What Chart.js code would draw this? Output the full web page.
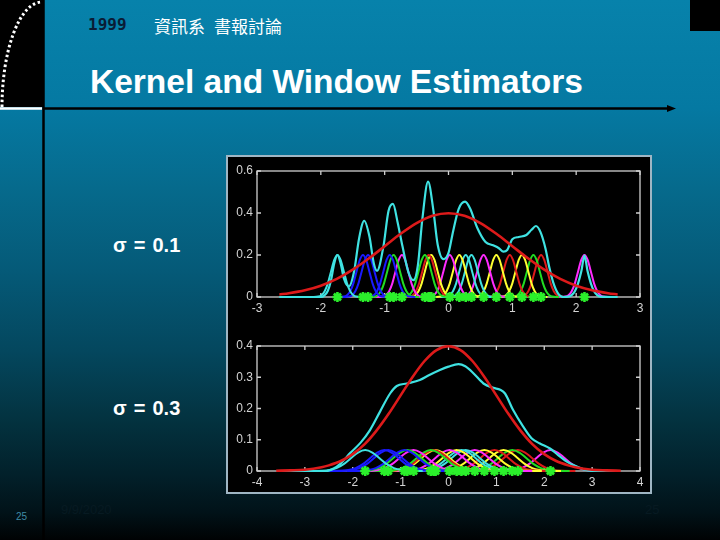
<!DOCTYPE html>
<html><head><meta charset="utf-8">
<script src="https://cdn.jsdelivr.net/npm/chart.js@4.4.1/dist/chart.umd.min.js"></script>
<style>
html,body{margin:0;padding:0;}
body{width:720px;height:540px;position:relative;overflow:hidden;
background:linear-gradient(to bottom,#0782ab 0%,#0579a2 20%,#066a8c 35%,#055a78 50%,#04475e 65%,#03323f 78%,#02202a 88%,#011218 95%,#000203 100%);
font-family:"Liberation Sans",Arial,sans-serif;}
.abs{position:absolute;white-space:nowrap;}
#deco{position:absolute;left:0;top:0;}
#fig{position:absolute;left:226px;top:155px;width:426px;height:339px;background:#000;box-sizing:border-box;border:2px solid #9fb6c4;}
canvas{position:absolute;}
</style></head>
<body>
<svg id="deco" width="720" height="540">
  <rect x="0" y="0" width="43" height="107" fill="#000"/>
  <path d="M 2 107 A 40 105 0 0 1 42 2" fill="none" stroke="#fff" stroke-width="3" stroke-dasharray="2.5 2.5"/>
  <line x1="0" y1="108.5" x2="42" y2="108.5" stroke="#fff" stroke-width="2.5"/>
  <line x1="43.5" y1="0" x2="43.5" y2="540" stroke="#000" stroke-width="2.5"/>
  <line x1="43" y1="108.5" x2="670" y2="108.5" stroke="#000" stroke-width="2.5"/>
  <polygon points="667,105 676,108.5 667,112" fill="#000"/>
  <rect x="690" y="0" width="30" height="31" fill="#000"/>
</svg>
<div class="abs" style="left:88px;top:15px;font-family:'DejaVu Sans Mono',monospace;font-size:16px;font-weight:bold;color:#0a1c36;">1999</div>
<div class="abs" style="left:154px;top:13px;font-family:'Noto Sans CJK TC',sans-serif;font-size:17px;color:#fff;">資訊系</div>
<div class="abs" style="left:214px;top:13px;font-family:'Noto Sans CJK TC',sans-serif;font-size:17px;color:#fff;">書報討論</div>
<div class="abs" style="left:90px;top:62px;font-size:33.5px;font-weight:bold;color:#fff;line-height:40px;">Kernel and Window Estimators</div>
<div class="abs" style="left:113px;top:233px;font-size:20px;font-weight:bold;color:#fff;line-height:24px;word-spacing:1.5px;">σ = 0.1</div>
<div class="abs" style="left:113px;top:396px;font-size:20px;font-weight:bold;color:#fff;line-height:24px;word-spacing:1.5px;">σ = 0.3</div>
<div class="abs" style="left:16px;top:511px;font-size:10px;color:#3f8aa6;">25</div>
<div class="abs" style="left:61px;top:502px;font-size:13px;color:#071a22;">9/9/2020</div>
<div class="abs" style="left:645px;top:502px;font-size:13px;color:#071a22;">25</div>
<div id="fig"></div>
<canvas id="c1" width="426" height="168" style="left:226px;top:155px;"></canvas>
<canvas id="c2" width="426" height="171" style="left:226px;top:323px;"></canvas>
<script>
// ---- data ----
const samplePoints = [-1.74,-1.34,-1.26,-0.92,-0.86,-0.73,-0.37,-0.31,-0.27,0.02,0.17,0.27,0.36,0.55,0.75,0.96,1.15,1.33,1.45,2.13];
const sigmaTop = 0.1, sigmaBottom = 0.3;
const kernelPeakTop = 0.2, kernelPeakBottom = 0.067;
// kernel bump profile (offset in sigma units, relative height)
const kernelOffsets = [-4,-3,-2.5,-2,-1.5,-1,-0.5,0,0.5,1,1.5,2,2.5,3,4];
const kernelShape   = [0,0.011,0.044,0.135,0.325,0.607,0.882,1,0.882,0.607,0.325,0.135,0.044,0.011,0];
// cyan: window estimate (sum)
const topSumX = [-2.65,-2.0,-1.94,-1.89,-1.84,-1.79,-1.74,-1.69,-1.64,-1.56,-1.48,-1.40,-1.32,-1.24,-1.17,-1.12,-1.02,-0.94,-0.87,-0.80,-0.72,-0.63,-0.55,-0.48,-0.41,-0.32,-0.24,-0.17,-0.08,0.0,0.07,0.16,0.26,0.34,0.45,0.58,0.70,0.79,0.86,0.92,1.0,1.1,1.22,1.30,1.37,1.44,1.52,1.58,1.64,1.72,1.8,1.88,1.93,1.98,2.03,2.08,2.13,2.18,2.23,2.28,2.33,2.38,2.65];
const topSumY = [0,0,0.009,0.03,0.08,0.16,0.2,0.16,0.09,0.05,0.12,0.28,0.363,0.29,0.16,0.125,0.24,0.41,0.443,0.36,0.24,0.12,0.08,0.15,0.37,0.549,0.42,0.25,0.18,0.21,0.31,0.42,0.454,0.42,0.33,0.262,0.246,0.232,0.216,0.224,0.275,0.286,0.295,0.32,0.338,0.31,0.23,0.14,0.07,0.015,0,0.002,0.009,0.027,0.065,0.121,0.197,0.121,0.065,0.027,0.009,0.002,0];
const bottomSumX = [-3.6,-2.55,-2.4,-2.26,-2.05,-1.84,-1.64,-1.43,-1.22,-1.08,-0.87,-0.6,-0.4,-0.18,0.0,0.21,0.35,0.52,0.73,0.94,1.08,1.18,1.35,1.56,1.74,1.91,2.12,2.29,2.47,2.68,2.88,3.1,3.6];
const bottomSumY = [0,0,0.008,0.023,0.058,0.09,0.131,0.19,0.248,0.272,0.28,0.291,0.307,0.323,0.334,0.342,0.335,0.313,0.28,0.266,0.26,0.248,0.195,0.142,0.104,0.088,0.072,0.051,0.03,0.014,0.003,0,0];
// red: true density
const normalX = [-3.6,-3.3,-3.0,-2.65,-2.5,-2.25,-2.0,-1.75,-1.5,-1.25,-1.0,-0.75,-0.5,-0.25,0,0.25,0.5,0.75,1.0,1.25,1.5,1.75,2.0,2.25,2.5,2.65,3.0,3.3,3.6];
const normalY = [0.001,0.002,0.004,0.012,0.018,0.032,0.054,0.086,0.13,0.183,0.242,0.301,0.352,0.387,0.399,0.387,0.352,0.301,0.242,0.183,0.13,0.086,0.054,0.032,0.018,0.012,0.004,0.002,0.001];
const topRange = [-2.65, 2.65];
const xTicksTop = [-3, 3], yTicksTop = [0, 0.6, 0.2];
const xTicksBottom = [-4, 4], yTicksBottom = [0, 0.4, 0.1];

// ---- styles ----
const C = {cyan:'#3fe2e2', blue:'#1a1aff', green:'#22dd22', mag:'#ff2bff', yel:'#ffff30', red:'#dd1a1a'};
const kernelColors = [C.cyan,C.blue,C.blue,C.blue,C.green,C.mag,C.green,C.red,C.yel,C.mag,C.yel,C.cyan,C.cyan,C.mag,C.yel,C.red,C.yel,C.green,C.red,C.mag];

const boxPlugin = {
  id:'box',
  beforeDatasetsDraw(chart){
    const {ctx, chartArea:a, scales:{x,y}} = chart;
    ctx.save();
    ctx.strokeStyle = '#d0d0d0'; ctx.lineWidth = 1.3;
    ctx.strokeRect(a.left, a.top, a.width, a.height);
    ctx.beginPath();
    x.ticks.forEach(t => { const p = x.getPixelForValue(t.value);
      ctx.moveTo(p, a.bottom); ctx.lineTo(p, a.bottom-4);
      ctx.moveTo(p, a.top); ctx.lineTo(p, a.top+4); });
    y.ticks.forEach(t => { const p = y.getPixelForValue(t.value);
      ctx.moveTo(a.left, p); ctx.lineTo(a.left+4, p);
      ctx.moveTo(a.right, p); ctx.lineTo(a.right-4, p); });
    ctx.stroke();
    ctx.restore();
  }
};

function makeChart(id, sigma, peak, sumX, sumY, xr, yr, padTop, xH, redLimit){
  const datasets = [];
  datasets.push({data: samplePoints.map(p => ({x:p, y:0})), showLine:false, pointStyle:'star',
    pointRadius:5, pointBorderWidth:2.6, borderColor:'#2bf02b', backgroundColor:'#2bf02b', order:0, clip:false});
  const redPts = normalX.map((v,i) => ({x:v, y:normalY[i]})).filter(p => p.x >= redLimit[0] && p.x <= redLimit[1]);
  datasets.push({data: redPts, borderColor:C.red, borderWidth:2.6, pointRadius:0, cubicInterpolationMode:'monotone', order:1, clip:false});
  datasets.push({data: sumX.map((v,i) => ({x:v, y:sumY[i]})), borderColor:C.cyan, borderWidth:2.2, pointRadius:0, cubicInterpolationMode:'monotone', order:2, clip:false});
  samplePoints.forEach((p, k) => {
    datasets.push({data: kernelOffsets.map((o,i) => ({x: p + o*sigma, y: peak*kernelShape[i]})),
      borderColor: kernelColors[k], borderWidth:2, pointRadius:0, cubicInterpolationMode:'monotone', order:3+k, clip:false});
  });
  const tickFont = {family:'"Liberation Sans", Arial, sans-serif', size:12};
  return new Chart(document.getElementById(id), {
    type:'line',
    data:{datasets},
    options:{
      responsive:false, animation:false, devicePixelRatio:1,
      layout:{padding:{top:padTop, right:12, left:0, bottom:0}},
      plugins:{legend:{display:false}, tooltip:{enabled:false}},
      scales:{
        x:{type:'linear', min:xr[0], max:xr[1], ticks:{stepSize:1, color:'#d4d4d4', font:tickFont, padding:4, maxRotation:0},
           grid:{display:false, drawTicks:false}, border:{display:false},
           afterFit(s){ s.height = xH; }},
        y:{type:'linear', min:yr[0], max:yr[1], ticks:{stepSize:yr[2], color:'#d4d4d4', font:tickFont, padding:4},
           grid:{display:false, drawTicks:false}, border:{display:false},
           afterFit(s){ s.width = 31; }}
      }
    },
    plugins:[boxPlugin]
  });
}
makeChart('c1', sigmaTop, kernelPeakTop, topSumX, topSumY, xTicksTop, yTicksTop, 16, 26, topRange);
makeChart('c2', sigmaBottom, kernelPeakBottom, bottomSumX, bottomSumY, xTicksBottom, yTicksBottom, 23, 23, [-10,10]);
</script>
</body></html>
